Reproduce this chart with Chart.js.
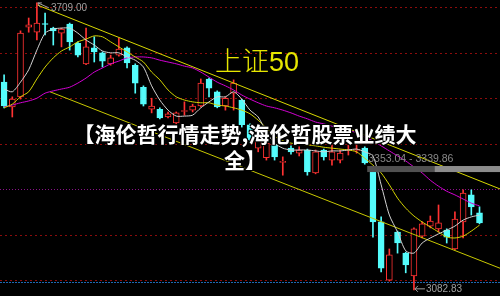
<!DOCTYPE html>
<html>
<head>
<meta charset="utf-8">
<script src="https://cdn.jsdelivr.net/npm/chart.js@4.4.0/dist/chart.umd.min.js"></script>
<style>
  html, body { margin: 0; padding: 0; background: #000; }
  #wrap { position: relative; width: 500px; height: 296px; overflow: hidden; background: #000; }
  #kline { position: absolute; left: 0; top: 0; }
  .index-name {
    position: absolute; left: 215px; top: 46px;
    font: 27px/28px "Liberation Sans", Arial, sans-serif; color: #e6e600;
  }
  .index-name .cjk { font-family: "Noto Sans CJK SC", sans-serif; font-weight: 300; }
  .headline {
    position: absolute; left: 70px; top: 120px; width: 350px;
    text-align: center; color: #fff;
    font: bold 21px/26px "Noto Sans CJK SC", sans-serif;
    text-shadow: 0 0 2px #000, 1px 1px 0 #000, -1px -1px 0 #000, 1px -1px 0 #000, -1px 1px 0 #000;
  }
</style>
</head>
<body>
<div id="wrap">
  <canvas id="kline" width="500" height="296"></canvas>
  <div class="index-name"><span class="cjk">上证</span>50</div>
  <div class="headline">【海伦哲行情走势,海伦哲股票业绩大全】</div>
</div>
<script>
/* ── K-line data ── */
const openPrices = [
  3536, 3482, 3504, 3656, 3645, 3664, 3654, 3643, 3663, 3621,
  3576, 3611, 3600, 3576, 3595, 3611, 3573, 3525, 3477, 3477,
  3460, 3447, 3472, 3475, 3484, 3543, 3515, 3484, 3512, 3497,
  3443, 3392, 3371, 3399, 3361, 3392, 3381, 3388, 3338, 3388,
  3366, 3366, 3387, 3387, 3392, 3349, 3231, 3104, 3209, 3163,
  3113, 3200, 3222, 3216, 3213, 3172, 3231, 3290, 3251];
const closePrices = [
  3484, 3499, 3643, 3661, 3665, 3662, 3648, 3652, 3624, 3595,
  3613, 3602, 3582, 3589, 3608, 3578, 3534, 3488, 3484, 3458,
  3467, 3469, 3474, 3484, 3534, 3523, 3482, 3501, 3534, 3443,
  3410, 3410, 3403, 3373, 3363, 3384, 3388, 3340, 3384, 3373,
  3384, 3381, 3389, 3389, 3360, 3231, 3130, 3159, 3185, 3137,
  3216, 3227, 3233, 3229, 3198, 3237, 3294, 3264, 3229];
const highPrices = [
  3552, 3504, 3648, 3676, 3709.00, 3687, 3656, 3654, 3665, 3624,
  3654, 3635, 3602, 3595, 3632, 3613, 3576, 3528, 3501, 3480,
  3471, 3471, 3493, 3488, 3543, 3545, 3517, 3504, 3541, 3499,
  3445, 3419, 3410, 3401, 3373, 3397, 3395, 3390, 3388, 3390,
  3399, 3388, 3399, 3405, 3395, 3351, 3242, 3172, 3211, 3165,
  3218, 3231, 3244, 3268, 3216, 3253, 3301, 3301, 3264];
const lowPrices = [
  3480, 3460, 3499, 3645, 3628, 3639, 3617, 3613, 3606, 3591,
  3574, 3580, 3569, 3573, 3593, 3567, 3512, 3484, 3469, 3456,
  3458, 3445, 3464, 3471, 3482, 3504, 3480, 3475, 3475, 3438,
  3403, 3384, 3366, 3366, 3333, 3379, 3375, 3333, 3336, 3366,
  3355, 3360, 3377, 3381, 3357, 3198, 3122, 3102, 3163, 3120,
  3082.83, 3196, 3218, 3209, 3185, 3170, 3196, 3246, 3227];

// moving averages as drawn
const ma5 = [
  3521, 3515, 3536, 3563, 3606, 3643, 3652, 3654, 3654, 3643,
  3628, 3617, 3604, 3600, 3600, 3591, 3584, 3569, 3528, 3497,
  3475, 3462, 3462, 3464, 3480, 3493, 3504, 3504, 3515, 3499,
  3475, 3460, 3427, 3403, 3392, 3388, 3388, 3388, 3386, 3384,
  3386, 3386, 3388, 3390, 3384, 3375, 3312, 3246, 3209, 3168,
  3163, 3185, 3196, 3205, 3213, 3222, 3235, 3242, 3246];
const ma10 = [
  3480, 3488, 3504, 3515, 3543, 3569, 3589, 3604, 3613, 3624,
  3630, 3637, 3635, 3624, 3613, 3602, 3591, 3580, 3558, 3541,
  3519, 3504, 3497, 3493, 3491, 3491, 3486, 3484, 3480, 3475,
  3467, 3453, 3436, 3418, 3408, 3403, 3401, 3399, 3397, 3394,
  3392, 3390, 3388, 3384, 3370, 3355, 3338, 3312, 3283, 3261,
  3244, 3231, 3220, 3209, 3198, 3196, 3200, 3211, 3224];
const ma20 = [
  3482, 3486, 3491, 3495, 3501, 3512, 3517, 3521, 3525, 3534,
  3545, 3558, 3567, 3576, 3582, 3589, 3591, 3591, 3589, 3584,
  3580, 3576, 3571, 3567, 3558, 3547, 3536, 3528, 3519, 3508,
  3499, 3491, 3484, 3480, 3475, 3469, 3462, 3456, 3449, 3445,
  3440, 3436, 3432, 3425, 3416, 3408, 3397, 3386, 3375, 3364,
  3351, 3338, 3322, 3309, 3298, 3290, 3281, 3272, 3266];

// trend channel: [candle index, price]
const upperTrend = [[4.1, 3704], [60.5, 3303]];
const lowerTrend = [[5.6, 3515], [60.5, 3130]];

const gridLevels = [3699, 3600, 3501, 3401, 3302, 3203, 3104];
const baseLevel = 3099;
const rangeBand = [3353.04, 3339.86];
const rangeFrom = 44.3, rangeSplit = 52.5;

const slots = 61; // visible candle slots (two empty at the right)
const priceMin = 3069.4, priceMax = 3715.3;

/* ── colours ── */
const UP = '#ff3232', DOWN = '#54fcfc';
const isUp = openPrices.map((o, i) => closePrices[i] >= o);

const pts = arr => arr.map((v, i) => ({ x: i, y: v }));

const overlay = {
  id: 'overlay',
  beforeDatasetsDraw(chart) {
    const { ctx, chartArea, scales: { y } } = chart;
    ctx.save();
    ctx.lineWidth = 1;
    gridLevels.forEach((lv, i) => {
      const py = Math.round(y.getPixelForValue(lv)) + 0.5;
      ctx.strokeStyle = i === 4 ? '#8a108a' : '#8c0c0c';
      ctx.setLineDash(i === 4 ? [1, 2] : [2, 3]);
      ctx.beginPath(); ctx.moveTo(chartArea.left, py); ctx.lineTo(chartArea.right, py); ctx.stroke();
    });
    const by = Math.round(y.getPixelForValue(baseLevel)) + 0.5;
    ctx.strokeStyle = '#2067b0';
    ctx.setLineDash([2, 1]);
    ctx.beginPath(); ctx.moveTo(chartArea.left, by); ctx.lineTo(chartArea.right, by); ctx.stroke();
    ctx.restore();
  },
  afterDatasetsDraw(chart) {
    const { ctx, chartArea, scales: { x, y } } = chart;
    ctx.save();

    // selected range band + label
    const y1 = y.getPixelForValue(rangeBand[0]);
    const y2 = y.getPixelForValue(rangeBand[1]);
    const xa = x.getPixelForValue(rangeFrom), xs = x.getPixelForValue(rangeSplit);
    ctx.fillStyle = '#505050';
    ctx.fillRect(xa, y1, xs - xa, y2 - y1);
    ctx.fillStyle = '#8c8c8c';
    ctx.fillRect(xs, y1, chartArea.right - xs, y2 - y1);
    ctx.font = '10.5px "Liberation Sans", Arial, sans-serif';
    ctx.textBaseline = 'middle';
    ctx.fillStyle = '#8a8a8a';
    ctx.fillText(rangeBand[0].toFixed(2) + ' - ' + rangeBand[1].toFixed(2), xa + 1, y1 - 7);

    // extreme price markers
    ctx.font = '10px "Liberation Sans", Arial, sans-serif';
    ctx.strokeStyle = '#a0a0a0';
    ctx.fillStyle = '#a0a0a0';
    ctx.lineWidth = 1;
    const hi = highPrices.indexOf(Math.max(...highPrices));
    const hx = x.getPixelForValue(hi), hy = y.getPixelForValue(highPrices[hi]);
    ctx.beginPath();
    ctx.moveTo(hx + 1, hy); ctx.lineTo(hx + 12, hy + 5);
    ctx.moveTo(hx + 1, hy); ctx.lineTo(hx + 5, hy);
    ctx.moveTo(hx + 1, hy); ctx.lineTo(hx + 3, hy + 4);
    ctx.stroke();
    ctx.fillText(highPrices[hi].toFixed(2), hx + 14, hy + 5);

    const lo = lowPrices.indexOf(Math.min(...lowPrices));
    const lx = x.getPixelForValue(lo), ly = y.getPixelForValue(lowPrices[lo]) - 1;
    ctx.beginPath();
    ctx.moveTo(lx + 1, ly); ctx.lineTo(lx + 11, ly);
    ctx.moveTo(lx + 1, ly); ctx.lineTo(lx + 4, ly - 3);
    ctx.moveTo(lx + 1, ly); ctx.lineTo(lx + 4, ly + 3);
    ctx.stroke();
    ctx.fillText(lowPrices[lo].toFixed(2), lx + 12, ly);
    ctx.restore();
  }
};

const lineDs = (data, color, order) => ({
  type: 'line', data, borderColor: color, borderWidth: 1,
  pointRadius: 0, tension: 0.25, fill: false, order,
});

new Chart(document.getElementById('kline'), {
  type: 'bar',
  data: {
    datasets: [
      lineDs(pts(ma5), '#d2d2d2', 0),
      lineDs(pts(ma10), '#d4d400', 0),
      lineDs(pts(ma20), '#d400d4', 0),
      Object.assign(lineDs(upperTrend.map(([i, v]) => ({ x: i, y: v })), '#d8d800', 0), { tension: 0 }),
      Object.assign(lineDs(lowerTrend.map(([i, v]) => ({ x: i, y: v })), '#c8c800', 0), { tension: 0 }),
      {
        // candle bodies
        data: openPrices.map((o, i) => ({ x: i, y: [o, closePrices[i]] })),
        backgroundColor: isUp.map(u => u ? '#000' : DOWN),
        borderColor: isUp.map(u => u ? UP : DOWN),
        borderWidth: 1, borderSkipped: false,
        barThickness: 6, grouped: false, order: 1,
      },
      {
        // wicks
        data: lowPrices.map((l, i) => ({ x: i, y: [l, highPrices[i]] })),
        backgroundColor: isUp.map(u => u ? UP : DOWN),
        borderWidth: 0, barThickness: 1, grouped: false, order: 2,
      },
    ],
  },
  options: {
    responsive: false,
    devicePixelRatio: 1,
    animation: false,
    layout: { padding: 0 },
    plugins: { legend: { display: false }, tooltip: { enabled: false } },
    scales: {
      x: { type: 'linear', min: -0.5, max: slots - 0.5, display: false, offset: false },
      y: { min: priceMin, max: priceMax, display: false },
    },
  },
  plugins: [overlay],
});
</script>
</body>
</html>
